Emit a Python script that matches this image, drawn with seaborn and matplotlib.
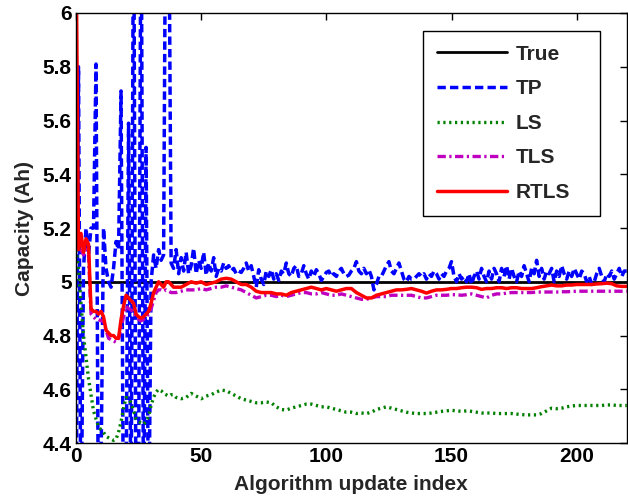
import numpy as np
import pandas as pd
import matplotlib
matplotlib.use("Agg")
import matplotlib.pyplot as plt
import seaborn as sns
from matplotlib.ticker import FuncFormatter

# ---------------- data ----------------
true_capacity = 5.0

tp_index = list(range(0, 221))
tp_values = [
    4.0, 5.8, 4.0, 5.05, 5.2, 5.1, 5.2, 5.2, 5.81, 4.0,
    4.3, 5.2, 5.05, 5.0, 4.98, 5.05, 5.15, 5.12, 5.71, 4.0,
    4.2, 5.59, 4.0, 6.6, 4.0, 4.2, 6.6, 4.0, 5.5, 4.0,
    5.0, 5.1, 5.05, 5.12, 5.08, 5.1, 6.8, 6.6, 5.07, 5.05,
    5.12, 5.03, 5.09, 5.04, 5.11, 5.03, 5.06, 5.125, 5.03, 5.08,
    5.05, 5.11, 5.025, 5.07, 5.04, 5.09, 5.02, 5.05, 5.04, 5.07,
    5.05, 5.06, 5.04, 5.05, 5.03, 5.04, 5.035, 5.05, 5.07, 5.04,
    5.06, 5.02, 4.98, 5.045, 5.01, 4.99, 5.04, 5.02, 5.045, 5.01,
    5.03, 5.005, 5.04, 5.03, 5.07, 5.03, 5.02, 5.05, 5.06, 5.02,
    5.03, 5.06, 5.03, 5.01, 5.04, 5.02, 5.045, 5.03, 5.005, 5.02,
    5.035, 5.04, 5.02, 5.03, 5.02, 5.04, 5.05, 5.03, 5.02, 5.025,
    5.04, 5.05, 5.075, 5.04, 5.03, 5.05, 5.03, 5.045, 5.02, 4.97,
    4.99, 5.02, 5.02, 5.04, 5.06, 5.075, 5.04, 5.03, 5.05, 5.07,
    5.04, 5.01, 5.0, 5.02, 5.01, 5.01, 5.02, 5.03, 5.02, 5.03,
    5.01, 5.03, 5.02, 5.04, 5.03, 5.01, 5.03, 5.02, 5.04, 5.05,
    5.075, 5.02, 5.0, 5.03, 5.01, 5.02, 5.0, 5.03, 4.99, 5.02,
    5.04, 5.01, 5.05, 5.02, 5.0, 5.04, 5.01, 5.05, 5.03, 5.0,
    5.05, 5.02, 5.06, 5.01, 5.05, 5.02, 5.0, 5.04, 5.02, 5.06,
    5.03, 5.0, 5.05, 5.03, 5.08, 5.02, 5.05, 5.01, 5.04, 5.03,
    5.05, 5.0, 5.04, 5.02, 5.06, 5.03, 5.01, 5.04, 5.02, 5.05,
    5.03, 5.01, 5.04, 5.03, 5.0, 5.02, 4.99, 5.0, 5.03, 5.05,
    5.02, 5.0, 5.03, 5.02, 5.04, 5.01, 5.03, 5.05, 5.02, 5.04,
    5.04,
]

est_index = list(range(0, 41)) + list(range(42, 221, 2))

ls_values = [
    5.12, 5.05, 4.92, 4.80, 4.72, 4.64, 4.58, 4.52, 4.49, 4.46,
    4.45, 4.44, 4.425, 4.42, 4.415, 4.41, 4.415, 4.44, 4.48, 4.53,
    4.57, 4.565, 4.55, 4.52, 4.49, 4.48, 4.475, 4.47, 4.48, 4.50,
    4.54, 4.57, 4.59, 4.60, 4.595, 4.585, 4.58, 4.575, 4.58, 4.58,
    4.57,
    4.565, 4.57, 4.585, 4.575, 4.565, 4.575, 4.58, 4.59, 4.597, 4.595,
    4.585, 4.575, 4.565, 4.56, 4.555, 4.55, 4.55, 4.553, 4.55, 4.535,
    4.525, 4.523, 4.53, 4.535, 4.54, 4.545, 4.545, 4.54, 4.535, 4.535,
    4.53, 4.525, 4.52, 4.515, 4.515, 4.51, 4.512, 4.51, 4.515, 4.525,
    4.53, 4.535, 4.53, 4.525, 4.52, 4.515, 4.512, 4.51, 4.51, 4.51,
    4.512, 4.515, 4.518, 4.52, 4.522, 4.52, 4.518, 4.52, 4.518, 4.515,
    4.512, 4.512, 4.512, 4.51, 4.51, 4.51, 4.51, 4.508, 4.506, 4.505,
    4.505, 4.505, 4.51, 4.52, 4.53, 4.528, 4.53, 4.535, 4.538, 4.54,
    4.54, 4.54, 4.54, 4.54, 4.54, 4.542, 4.542, 4.54, 4.54, 4.54,
]

tls_values = [
    5.25, 5.15, 5.12, 5.10, 5.12, 5.10, 4.88, 4.87, 4.86, 4.86,
    4.855, 4.855, 4.82, 4.79, 4.785, 4.78, 4.775, 4.79, 4.83, 4.87,
    4.91, 4.90, 4.895, 4.89, 4.87, 4.86, 4.855, 4.86, 4.87, 4.88,
    4.90, 4.93, 4.96, 4.97, 4.97, 4.965, 4.97, 4.965, 4.96, 4.96,
    4.96,
    4.965, 4.97, 4.97, 4.97, 4.975, 4.97, 4.975, 4.98, 4.98, 4.985,
    4.98, 4.975, 4.97, 4.96, 4.95, 4.94, 4.945, 4.95, 4.95, 4.945,
    4.95, 4.945, 4.95, 4.955, 4.96, 4.96, 4.955, 4.955, 4.96, 4.955,
    4.95, 4.95, 4.955, 4.95, 4.945, 4.94, 4.935, 4.935, 4.94, 4.945,
    4.945, 4.945, 4.95, 4.95, 4.95, 4.95, 4.95, 4.945, 4.94, 4.94,
    4.945, 4.95, 4.95, 4.95, 4.952, 4.952, 4.95, 4.952, 4.955, 4.95,
    4.945, 4.94, 4.95, 4.955, 4.955, 4.958, 4.96, 4.96, 4.96, 4.96,
    4.96, 4.962, 4.962, 4.962, 4.962, 4.962, 4.963, 4.963, 4.964, 4.965,
    4.965, 4.965, 4.965, 4.965, 4.965, 4.965, 4.965, 4.965, 4.965, 4.965,
]

rtls_values = [
    6.3, 5.12, 5.18, 5.11, 5.16, 5.14, 4.90, 4.89, 4.89, 4.88,
    4.89, 4.87, 4.82, 4.81, 4.80, 4.80, 4.79, 4.79, 4.86, 4.91,
    4.95, 4.94, 4.93, 4.92, 4.88, 4.87, 4.865, 4.87, 4.88, 4.89,
    4.92, 4.96, 4.98, 5.00, 4.99, 4.98, 5.00, 5.00, 4.99, 4.98,
    4.98,
    4.98, 4.99, 5.00, 4.995, 5.00, 4.99, 4.995, 5.00, 5.01, 5.013,
    5.01, 5.0, 4.99, 4.99, 4.98, 4.965, 4.96, 4.96, 4.96, 4.955,
    4.955, 4.95, 4.96, 4.965, 4.97, 4.975, 4.98, 4.975, 4.97, 4.975,
    4.97, 4.965, 4.97, 4.975, 4.975, 4.96, 4.95, 4.94, 4.94, 4.95,
    4.955, 4.96, 4.965, 4.97, 4.97, 4.972, 4.975, 4.97, 4.965, 4.958,
    4.965, 4.97, 4.97, 4.972, 4.975, 4.975, 4.978, 4.98, 4.98, 4.978,
    4.972, 4.975, 4.975, 4.978, 4.978, 4.975, 4.978, 4.978, 4.975, 4.975,
    4.975, 4.978, 4.982, 4.985, 4.988, 4.985, 4.985, 4.988, 4.988, 4.99,
    4.99, 4.99, 4.99, 4.992, 4.993, 4.995, 4.993, 4.985, 4.983, 4.983,
]

x_ticks = [0, 50, 100, 150, 200]
y_ticks = [4.4, 4.6, 4.8, 5.0, 5.2, 5.4, 5.6, 5.8, 6.0]
series_labels = ["True", "TP", "LS", "TLS", "RTLS"]

# ---------------- style ----------------
sns.set_theme(style="white")
plt.rcParams["font.family"] = ["Liberation Sans", "DejaVu Sans"]
plt.rcParams["font.weight"] = "bold"
plt.rcParams["lines.scale_dashes"] = False

fig = plt.figure(figsize=(6.28, 4.99), dpi=100)
ax = fig.add_axes([0.121, 0.112, 0.877, 0.862])

true_df = pd.DataFrame({"x": tp_index, "y": [true_capacity] * len(tp_index)})
tp_df = pd.DataFrame({"x": tp_index, "y": tp_values})
ls_df = pd.DataFrame({"x": est_index, "y": ls_values})
tls_df = pd.DataFrame({"x": est_index, "y": tls_values})
rtls_df = pd.DataFrame({"x": est_index, "y": rtls_values})

common = dict(x="x", y="y", ax=ax, estimator=None, errorbar=None, sort=False)
sns.lineplot(data=true_df, color="black", linewidth=2.0, label=series_labels[0], **common)
sns.lineplot(data=tp_df, color="#0000ff", linewidth=2.5,
             linestyle=(0, (6, 3)), label=series_labels[1], **common)
sns.lineplot(data=ls_df, color="#008000", linewidth=2.4,
             linestyle=(0, (1.6, 2.6)), label=series_labels[2], **common)
sns.lineplot(data=tls_df, color="#bf00bf", linewidth=2.4,
             linestyle=(0, (6, 2.5, 1.6, 2.5)), label=series_labels[3], **common)
sns.lineplot(data=rtls_df, color="#ff0000", linewidth=2.5, label=series_labels[4], **common)

ax.set_xlim(0, 220)
ax.set_ylim(4.4, 6.0)
ax.set_xticks(x_ticks)
ax.set_yticks(y_ticks)
ax.yaxis.set_major_formatter(FuncFormatter(lambda v, p: f"{v:g}"))
ax.tick_params(axis="both", which="major", direction="in", length=5, width=1,
               top=True, right=True, labelsize=15, pad=3, colors="black")
for lab in ax.get_xticklabels() + ax.get_yticklabels():
    lab.set_fontweight("bold")
for sp in ax.spines.values():
    sp.set_visible(True)
    sp.set_color("black")
    sp.set_linewidth(1.0)

ax.set_xlabel("Algorithm update index", fontsize=15, fontweight="bold", labelpad=6)
ax.set_ylabel("Capacity (Ah)", fontsize=15, fontweight="bold", labelpad=6)

leg = ax.legend(loc="upper left", bbox_to_anchor=(0.630, 0.958, 0.321, 0.0),
                mode="expand", borderaxespad=0,
                fancybox=False, frameon=True, edgecolor="black", framealpha=1,
                prop={"weight": "bold", "size": 15}, handlelength=3.4,
                handletextpad=0.38, labelspacing=0.75, borderpad=0.65)
leg.get_frame().set_linewidth(1.0)

fig.savefig("out.png", dpi=100)
